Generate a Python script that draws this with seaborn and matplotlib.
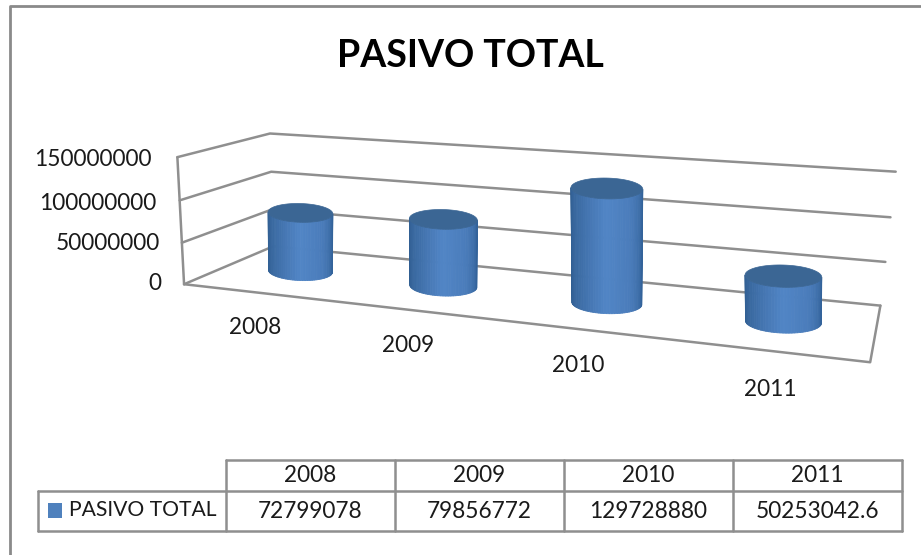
import numpy as np
import pandas as pd
import matplotlib
matplotlib.use("Agg")
import matplotlib.pyplot as plt
import seaborn as sns

# ---- data ----
years = ["2008", "2009", "2010", "2011"]
values = [72799078, 79856772, 129728880, 50253042.6]
value_labels = ["72799078", "79856772", "129728880", "50253042.6"]
y_ticks = [0, 50000000, 100000000, 150000000]
series_name = "PASIVO TOTAL"

sns.set_theme(style="white")
plt.rcParams["font.family"] = ["Lato", "DejaVu Sans"]

W, H = 921, 555
fig = plt.figure(figsize=(W / 100, H / 100), dpi=100, facecolor="white")
ax = fig.add_axes([0, 0, 1, 1])
ax.set_xlim(0, W)
ax.set_ylim(H, 0)
ax.axis("off")

GRID = "#8f8f8f"
TXT = "#1a1a1a"

# ---- camera: fit projective map (u across, d depth, v value in units of 150M) -> pixels
anchors = [
    (0, 0, 0, 187, 283), (1, 0, 0, 870, 364), (1, 1, 0, 880, 304), (0, 1, 0, 270, 248),
    (0, 0, 1, 175, 158), (0, 1, 1, 272, 133), (1, 1, 1, 895, 172),
    (0, 0, 2 / 3, 178, 200), (0, 1, 2 / 3, 273, 172), (1, 1, 2 / 3, 890, 217),
    (0, 0, 1 / 3, 183, 242), (0, 1, 1 / 3, 272, 209), (1, 1, 1 / 3, 887, 262),
]
A = []
for u, d, v, px, py in anchors:
    A.append([u, d, v, 1, 0, 0, 0, 0, -px * u, -px * d, -px * v, -px])
    A.append([0, 0, 0, 0, u, d, v, 1, -py * u, -py * d, -py * v, -py])
M = np.linalg.svd(np.array(A, float))[2][-1].reshape(3, 4)


def proj(u, d, val):
    p = M @ np.array([u, d, val / max(y_ticks), 1.0])
    return p[:2] / p[2]


def line(points, color=GRID, lw=1.8):
    df = pd.DataFrame(points, columns=["x", "y"])
    sns.lineplot(data=df, x="x", y="y", sort=False, estimator=None, ax=ax,
                 color=color, linewidth=lw, legend=False)


# ---- chart border ----
line([(10, 555), (10, 6), (921, 6)], color="#8a8a8a", lw=2.0)

# ---- walls and gridlines ----
for t in y_ticks:
    line([proj(0, 0, t), proj(0, 1, t), proj(1, 1, t)])
line([proj(0, 0, 0), proj(1, 0, 0), proj(1, 1, 0)])
line([proj(0, 0, 0), proj(0, 0, max(y_ticks))])

# ---- cylinders ----
shade = sns.blend_palette(["#2f5d90", "#3f6fa8", "#5185c6", "#4a7cba", "#33639a"], 40)
top_col = "#3b6694"
centres = [0.127, 0.373, 0.629, 0.879]
radii = [0.0575, 0.055, 0.052, 0.051]


def ellipse_axes(u, ru, val, x_anchor):
    c = proj(u, 0.5, val)
    c[0] = x_anchor
    a = (proj(u + ru, 0.5, val) - proj(u - ru, 0.5, val)) / 2
    a[1] *= 0.35
    b = np.array([-a[1], a[0]]) * 0.29
    return c, a, b


for u, ru, val in zip(centres, radii, values):
    xb = proj(u, 0.5, 0)[0]
    cb, ab, bb = ellipse_axes(u, ru, 0, xb)
    ct, at, bt = ellipse_axes(u, ru, val, xb)
    th = np.linspace(np.pi, 0, len(shade) + 1)
    for j, col in enumerate(shade):
        t0, t1 = th[j], th[j + 1]
        pts = np.array([ct + at * np.cos(t0) + bt * np.sin(t0),
                        ct + at * np.cos(t1) + bt * np.sin(t1),
                        cb + ab * np.cos(t1) + bb * np.sin(t1),
                        cb + ab * np.cos(t0) + bb * np.sin(t0)])
        ax.fill(pts[:, 0], pts[:, 1], color=col, lw=0.6, zorder=5)
    tt = np.linspace(0, 2 * np.pi, 80)
    e = ct + np.outer(np.cos(tt), at) + np.outer(np.sin(tt), bt)
    ax.fill(e[:, 0], e[:, 1], color=top_col, lw=0.5, zorder=6)

# ---- axis labels ----
for t, x, y in zip(y_ticks, [161, 160, 156, 152], [283, 243, 203, 160]):
    ax.text(x, y, f"{t}", ha="right", va="center", fontsize=16.3, color=TXT)
for lab, x, y in zip(years, [255, 408, 578, 770], [328, 345, 365, 389]):
    ax.text(x, y, lab, ha="center", va="center", fontsize=16.3, color=TXT)

# ---- title ----
ax.text(470, 56, "PASIVO TOTAL", ha="center", va="center", fontsize=27,
        fontweight="bold", color="black")

# ---- data table ----
xs = [226, 395, 564, 733, 902]
line([(xs[0], 460), (xs[-1], 460)])
line([(38, 491), (xs[-1], 491)])
line([(38, 531), (xs[-1], 531)])
line([(38, 491), (38, 531)])
for x in xs:
    line([(x, 460), (x, 531)])
for k, (yr, lab) in enumerate(zip(years, value_labels)):
    xc = (xs[k] + xs[k + 1]) / 2
    ax.text(xc, 476, yr, ha="center", va="center", fontsize=16.3, color=TXT)
    ax.text(xc, 511, lab, ha="center", va="center", fontsize=16.3, color=TXT)
ax.add_patch(plt.Rectangle((48, 503), 14, 15, color="#4f81bd", lw=0))
ax.text(69, 510, series_name, ha="left", va="center", fontsize=15.2, color=TXT)

fig.savefig("out.png", dpi=100, facecolor="white")
